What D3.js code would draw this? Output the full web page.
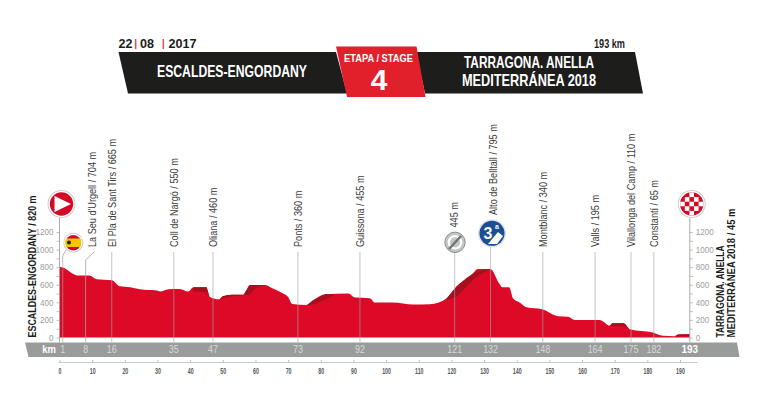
<!DOCTYPE html>
<html><head><meta charset="utf-8">
<script src="https://cdnjs.cloudflare.com/ajax/libs/d3/7.8.5/d3.min.js"></script>
<style>html,body{margin:0;padding:0;background:#fff}svg{display:block}text{font-family:"Liberation Sans",sans-serif}</style>
</head><body><svg id="c" width="768" height="403"></svg>
<script>
const profileKm=[
0,1,2.2,3.7,5.8,9.1,11.4,16,18.5,21.6,
24.6,29.8,30.8,33.3,36.9,39.4,41,45,46,49,
50,52.7,56.3,58.3,62.9,65,68.5,70,71.3,75.7,
77.7,81.3,88.4,90.5,95,96.6,102,108.3,113.4,118.5,
121.5,126.6,128,131.9,134.8,135.6,137.7,138.9,140.9,143,
147.8,152.7,155.7,157.8,165.4,168.5,169.3,172.8,174.6,181.7,
184.8,188.4,189.4,193];
const profileM=[
805,795,773,735,705,705,663,652,583,572,
549,534,523,549,553,523,572,572,462,436,
470,485,485,598,598,564,500,462,382,371,
424,492,500,454,447,398,398,375,379,443,
576,727,780,780,606,572,572,443,398,345,
322,242,235,200,200,136,163,163,95,57,
19,15,34,36];
const shadeKm=[41,45,46, 49,50,52.7,56.3, 56.3,58.3,60.3,62.9, 75.7,77.7,81.3,84, 118.5,121.5,124.6,127.6,131.9, 168.5,169.3,172.8,174.6, 188.4,189.4,193];
const shadeTop=[572,572,462, 436,470,485,485, 485,598,598,598, 371,424,492,496, 443,576,676,750,780, 136,163,163,95, 15,34,36];
const shadeLow=[523,518,462, 436,445,470,480, 485,490,570,598, 371,375,430,480, 424,462,576,690,780, 136,130,135,95, 15,15,20];
const shadeSegs=[3,4,4,4,5,4,3];
const waypointKm=[8,16,35,47,73,92,148,164,175,182];
const waypointLabel=["La Seu d'Urgell / 704 m","El Pla de Sant Tirs / 665 m","Coll de Nargó / 550 m","Oliana / 460 m","Ponts / 360 m","Guissona / 455 m","Montblanc / 340 m","Valls / 195 m","Vilallonga del Camp / 110 m","Constantí / 65 m"];
const bandKm=[1,8,16,35,47,73,92,121,132,148,164,175,182,193];
const yTicks=[0,200,400,600,800,1000,1200];
const xTicks=d3.range(0,200,10);
const startName="ESCALDES-ENGORDANY / 820 m";
const finishLines=["TARRAGONA. ANELLA","MEDITERRÁNEA 2018 / 45 m"];
const headDate=["22","08","2017"];
const svg=d3.select("#c");
const x=d3.scaleLinear().domain([0,190]).range([59.5,680]);
const y=d3.scaleLinear().domain([0,1200]).range([337.5,232]);
const poly=(pts,fill)=>svg.append("polygon").attr("points",pts.map(p=>p.join(",")).join(" ")).attr("fill",fill);
const txt=(s,xx,yy,size,fill,o={})=>{const t=svg.append("text").text(s).attr("x",xx).attr("y",yy).attr("font-size",size).attr("fill",fill).attr("text-anchor",o.a||"middle").attr("font-weight",o.w||"normal").attr("data-f",o.f||.8).attr("transform",o.r?`rotate(${o.r} ${xx} ${yy})`:null);if(o.len)t.attr("data-len",o.len);return t;};
// header
poly([[118.5,52],[336,52],[347,93.5],[128,93.5]],"#1d1d1b");
poly([[416,52],[635,52],[643,93.5],[425,93.5]],"#1d1d1b");
poly([[336,46.5],[416.5,46.5],[425.5,97],[347,97]],"#e2202c");
txt(headDate[0],118.6,47.5,13.5,"#1d1d1b",{a:"start",w:"bold",len:14});
txt("|",134.5,47,11,"#e2202c",{a:"start",w:"bold"});
txt(headDate[1],140,47.5,13.5,"#1d1d1b",{a:"start",w:"bold",len:14});
txt("|",162,47,11,"#e2202c",{a:"start",w:"bold"});
txt(headDate[2],168.5,47.5,13.5,"#1d1d1b",{a:"start",w:"bold",len:28});
txt("193 km",625,47.5,13.5,"#1d1d1b",{a:"end",w:"bold",len:31});
txt("ESCALDES-ENGORDANY",232,76.5,16.5,"#fff",{w:"bold",len:150});
txt("TARRAGONA. ANELLA",529,67.5,16.5,"#fff",{w:"bold",len:130});
txt("MEDITERRÁNEA 2018",529,86,16.5,"#fff",{w:"bold",len:134});
txt("ETAPA / STAGE",378.5,62,11,"#fff",{w:"bold",len:69});
txt("4",379,90,30,"#fff",{w:"bold",f:1});
// band
poly([[25,342.5],[737,342.5],[739.5,357],[28.5,357]],"#9a9c9c");
txt("km",49,353,10.5,"#fff",{w:"bold",f:.9});
bandKm.forEach(d=>txt(d,x(d),353,10.5,d===193?"#fff":"#d8d9d9",{w:d===193?"bold":"normal",f:d===193?.95:.85}));
// profile
const bottom=y(0);
const area=d3.area().x((d,i)=>x(profileKm[i])).y0(bottom).y1(d=>y(d)).curve(d3.curveMonotoneX);
svg.append("path").datum(profileM).attr("d",area).attr("fill","#dc0a26");
// shaded climbs
let pos=0;
shadeSegs.forEach(n=>{
  const idx=d3.range(pos,pos+n);pos+=n;
  const a=d3.area().x(i=>x(shadeKm[i])).y0(i=>y(shadeLow[i])).y1(i=>y(shadeTop[i]));
  svg.append("path").datum(idx).attr("d",a).attr("fill","#a50f1e");
});
// guides
const guideCol="#a3a5a5";
const guide=(km,top)=>svg.append("line").attr("x1",x(km)).attr("x2",x(km)).attr("y1",top).attr("y2",342).attr("stroke",guideCol).attr("stroke-width",.8).attr("opacity",.8);
waypointKm.forEach((km,i)=>{
  if(i===0){
    svg.append("path").attr("d",d3.line()([[x(km)+9,251.5],[x(km),260],[x(km),342]])).attr("fill","none").attr("stroke",guideCol).attr("stroke-width",.8);
    txt(waypointLabel[i],95.5,247,11,"#3c3c3b",{a:"start",r:-90,f:.83});
  } else {
    guide(km,252);
    txt(waypointLabel[i],x(km)+4,247,11,"#3c3c3b",{a:"start",r:-90,f:.83});
  }
});
guide(121,252);guide(132,247);guide(1,262);
txt("445 m",458,227.5,11,"#3c3c3b",{a:"start",r:-90,f:.83});
txt("Alto de Belltall / 795 m",497.3,215,11,"#3c3c3b",{a:"start",r:-90,f:.83});
// axes
const fmt=d=>yTicks.includes(d)?d:"";
const gl=svg.append("g").attr("transform",`translate(${x(0)},0)`).call(d3.axisLeft(y).tickValues(d3.range(0,1300,100)).tickSize(3).tickFormat(fmt));
const gr=svg.append("g").attr("transform",`translate(${x(193)},0)`).call(d3.axisRight(y).tickValues(d3.range(0,1300,100)).tickSize(3).tickFormat(fmt));
[gl,gr].forEach(g=>{g.select(".domain").remove();g.selectAll("line").attr("stroke",guideCol).attr("stroke-width",.7);g.selectAll("text").attr("fill","#9c9e9e").attr("font-size",8.5).attr("font-family","Liberation Sans").attr("data-f",.95);});
svg.append("line").attr("x1",x(0)).attr("x2",x(0)).attr("y1",218).attr("y2",342).attr("stroke",guideCol).attr("stroke-width",.9);
svg.append("line").attr("x1",x(193)).attr("x2",x(193)).attr("y1",218).attr("y2",342).attr("stroke",guideCol).attr("stroke-width",.9);
const gx=svg.append("g").attr("transform","translate(0,362.5)").call(d3.axisBottom(x).tickValues(xTicks).tickSize(-2.5).tickPadding(5));
gx.select(".domain").remove();
svg.append("line").attr("x1",x(0)-1).attr("x2",x(193)+8).attr("y1",362.5).attr("y2",362.5).attr("stroke","#bcbebe").attr("stroke-width",.8);
gx.selectAll("line").attr("stroke",guideCol).attr("stroke-width",.7);
gx.selectAll("text").attr("fill","#58595b").attr("font-size",8.5).attr("font-weight","bold").attr("font-family","Liberation Sans").attr("data-f",.62);
// side labels
txt(startName,35.5,337.5,11.5,"#1d1d1b",{a:"start",w:"bold",r:-90,len:142});
txt(finishLines[0],724,337.5,11.5,"#1d1d1b",{a:"start",w:"bold",r:-90,len:92});
txt(finishLines[1],735,337.5,11.5,"#1d1d1b",{a:"start",w:"bold",r:-90,len:129});
// icons
const ring=(cx,cy,r,c)=>{svg.append("circle").attr("cx",cx).attr("cy",cy).attr("r",r+1).attr("fill","#cfcfcf");svg.append("circle").attr("cx",cx).attr("cy",cy).attr("r",r).attr("fill","#fff");svg.append("circle").attr("cx",cx).attr("cy",cy).attr("r",r-1.3).attr("fill",c);};
ring(61.5,204,13,"#d20a28");
poly([[54.5,196],[54.5,212],[71,204]],"#fff");
ring(691.7,204,13,"#d20a28");
[-2,-1,0,1,2].forEach(a=>[-2,-1,0,1,2].forEach(b=>{ if((a+b+8)%2===0&&a*a+b*b<6) svg.append("rect").attr("x",691.7+a*4.6-2.3).attr("y",204+b*4.6-2.3).attr("width",4.6).attr("height",4.6).attr("fill","#fff");}));
// flag
ring(73.3,242.7,9,"#c8102e");
svg.append("clipPath").attr("id","fc").append("circle").attr("cx",73.3).attr("cy",242.7).attr("r",8);
svg.append("rect").attr("x",63).attr("y",238.5).attr("width",20).attr("height",8.5).attr("fill","#f7c600").attr("clip-path","url(#fc)");
svg.append("circle").attr("cx",69).attr("cy",242.5).attr("r",2).attr("fill","#222");
svg.append("path").attr("d",d3.line()([[66,250],[62.7,256],[62.7,262]])).attr("fill","none").attr("stroke",guideCol).attr("stroke-width",.8);
// sprint
svg.append("circle").attr("cx",455).attr("cy",242.3).attr("r",10.2).attr("fill","#c4c5c5").attr("stroke","#8d8f8f").attr("stroke-width",1);
svg.append("circle").attr("cx",455).attr("cy",242.3).attr("r",6.2).attr("fill","none").attr("stroke","#fff").attr("stroke-width",2.2);
svg.append("path").attr("d",d3.line()([[449,249],[461,236]])).attr("stroke","#6f7171").attr("stroke-width",2.4);
// KOM
svg.append("circle").attr("cx",492).attr("cy",233.3).attr("r",14).attr("fill","#dfe3ea");
svg.append("circle").attr("cx",492).attr("cy",233.3).attr("r",12.5).attr("fill","#1a4f96");
txt("3",488,239,16,"#fff",{w:"bold",f:1});
txt("a",497,229,7,"#fff",{w:"bold",f:1});
svg.append("path").attr("d",d3.line()([[488,244],[498,232],[503,236],[497,244]])).attr("fill","#fff");
// condense all text to the narrow face of the reference
svg.selectAll("text").each(function(){
  const t=d3.select(this);const len=this.getComputedTextLength();
  const target=t.attr("data-len")?+t.attr("data-len"):len*(+t.attr("data-f")||.8);
  t.attr("textLength",target).attr("lengthAdjust","spacingAndGlyphs");
});
</script></body></html>
